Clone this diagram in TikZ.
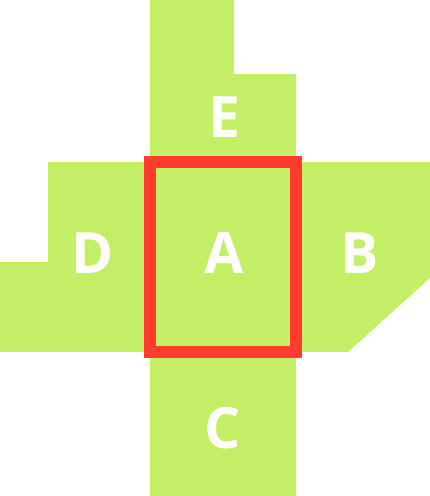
\documentclass[tikz,border=0pt]{standalone}
\usepackage{fontspec}
\setmainfont{Open Sans}
\definecolor{leaf}{RGB}{197,238,103}
\definecolor{redline}{RGB}{255,58,47}
\tikzset{
  face/.style={fill=leaf, draw=none},
  lbl/.style={text=white, font=\fontsize{57}{57}\selectfont\bfseries, anchor=base, inner sep=0pt},
  frame/.style={draw=redline, line width=12pt}
}
\begin{document}
\begin{tikzpicture}[x=1pt,y=-1pt]
\useasboundingbox (0,0) rectangle (430,496);
% E
\fill[face] (150,0) -- (234,0) -- (234,74) -- (296,74) -- (296,162) -- (150,162) -- cycle;
% D
\fill[face] (48,162) -- (150,162) -- (150,352) -- (0,352) -- (0,262) -- (48,262) -- cycle;
% A
\fill[face] (150,162) rectangle (296,352);
% B
\fill[face] (296,162) -- (430,162) -- (430,278) -- (348,352) -- (296,352) -- cycle;
% C
\fill[face] (150,352) rectangle (296,496);
% frame of A
\draw[frame] (150,162) rectangle (296,352);
\node[lbl] (a) at (224,273) {A};
\node[lbl] (b) at (360,273) {B};
\node[lbl] (c) at (223,448) {C};
\node[lbl] (d) at (93,273) {D};
\node[lbl] (e) at (224,137) {E};
\end{tikzpicture}
\end{document}
